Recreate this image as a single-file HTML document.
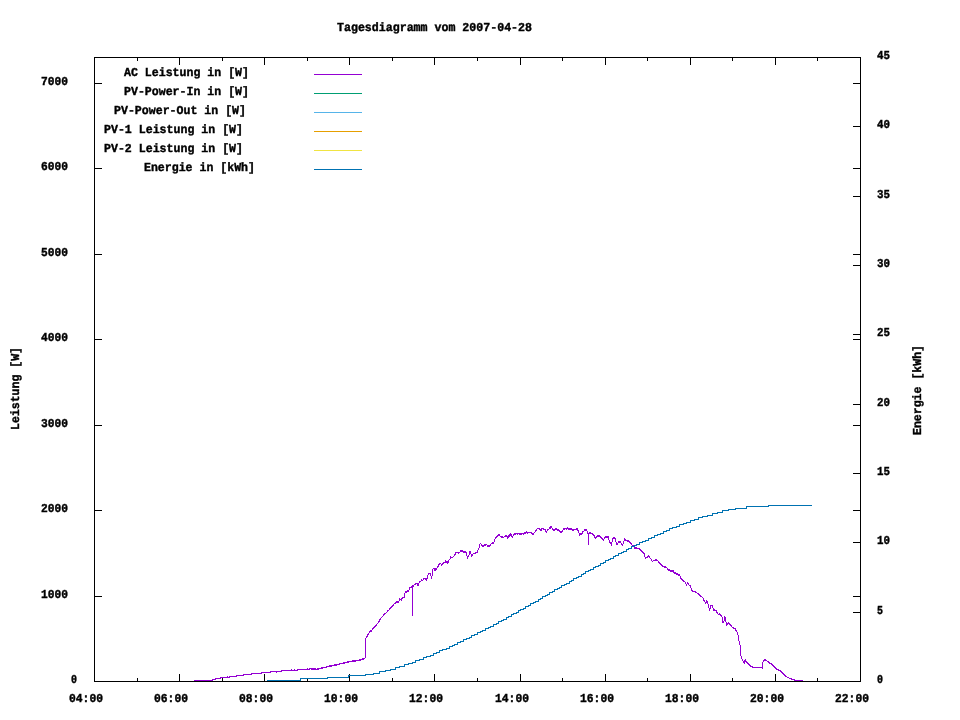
<!DOCTYPE html>
<html lang="de"><head><meta charset="utf-8"><title>Tagesdiagramm vom 2007-04-28</title>
<style>
html,body{margin:0;padding:0;background:#fff;}
body{width:960px;height:720px;overflow:hidden;font-family:"Liberation Mono",monospace;}
svg{display:block;will-change:transform;}
text{font-family:"Liberation Mono",monospace;font-weight:bold;font-size:12.15px;text-rendering:geometricPrecision;fill:#000;stroke:#000;stroke-width:0.4px;}
.ax{stroke:#000;stroke-width:1;fill:none;shape-rendering:crispEdges;}
.ln{stroke-width:1;fill:none;shape-rendering:crispEdges;}
</style></head><body>
<svg width="960" height="720" viewBox="0 0 960 720">
<rect x="0" y="0" width="960" height="720" fill="#ffffff"/>
<text x="337" y="31" textLength="195" lengthAdjust="spacingAndGlyphs">Tagesdiagramm vom 2007-04-28</text>
<path class="ax" d="M94.5 57.5H860.5V681.5H94.5ZM94.5 682v-8M94.5 57v8M137.5 682v-4M137.5 57v4M179.5 682v-8M179.5 57v8M222.5 682v-4M222.5 57v4M264.5 682v-8M264.5 57v8M307.5 682v-4M307.5 57v4M349.5 682v-8M349.5 57v8M392.5 682v-4M392.5 57v4M434.5 682v-8M434.5 57v8M477.5 682v-4M477.5 57v4M520.5 682v-8M520.5 57v8M562.5 682v-4M562.5 57v4M605.5 682v-8M605.5 57v8M647.5 682v-4M647.5 57v4M690.5 682v-8M690.5 57v8M732.5 682v-4M732.5 57v4M775.5 682v-8M775.5 57v8M817.5 682v-4M817.5 57v4M860.5 682v-8M860.5 57v8M94 681.5h8M861 681.5h-8M94 596.5h8M861 596.5h-8M94 510.5h8M861 510.5h-8M94 425.5h8M861 425.5h-8M94 339.5h8M861 339.5h-8M94 254.5h8M861 254.5h-8M94 168.5h8M861 168.5h-8M94 83.5h8M861 83.5h-8M861 681.5h-8M861 612.5h-8M861 542.5h-8M861 473.5h-8M861 404.5h-8M861 334.5h-8M861 265.5h-8M861 196.5h-8M861 126.5h-8M861 57.5h-8"/>
<text x="69" y="702" textLength="34" lengthAdjust="spacingAndGlyphs">04:00</text>
<text x="154" y="702" textLength="34" lengthAdjust="spacingAndGlyphs">06:00</text>
<text x="239" y="702" textLength="34" lengthAdjust="spacingAndGlyphs">08:00</text>
<text x="324" y="702" textLength="34" lengthAdjust="spacingAndGlyphs">10:00</text>
<text x="409" y="702" textLength="34" lengthAdjust="spacingAndGlyphs">12:00</text>
<text x="495" y="702" textLength="34" lengthAdjust="spacingAndGlyphs">14:00</text>
<text x="580" y="702" textLength="34" lengthAdjust="spacingAndGlyphs">16:00</text>
<text x="665" y="702" textLength="34" lengthAdjust="spacingAndGlyphs">18:00</text>
<text x="750" y="702" textLength="34" lengthAdjust="spacingAndGlyphs">20:00</text>
<text x="835" y="702" textLength="34" lengthAdjust="spacingAndGlyphs">22:00</text>
<text x="71" y="683" textLength="6" lengthAdjust="spacingAndGlyphs">0</text>
<text x="41" y="598" textLength="27" lengthAdjust="spacingAndGlyphs">1000</text>
<text x="41" y="512" textLength="27" lengthAdjust="spacingAndGlyphs">2000</text>
<text x="41" y="427" textLength="27" lengthAdjust="spacingAndGlyphs">3000</text>
<text x="41" y="341" textLength="27" lengthAdjust="spacingAndGlyphs">4000</text>
<text x="41" y="256" textLength="27" lengthAdjust="spacingAndGlyphs">5000</text>
<text x="41" y="170" textLength="27" lengthAdjust="spacingAndGlyphs">6000</text>
<text x="41" y="85" textLength="27" lengthAdjust="spacingAndGlyphs">7000</text>
<text x="877" y="683" textLength="6" lengthAdjust="spacingAndGlyphs">0</text>
<text x="877" y="614" textLength="6" lengthAdjust="spacingAndGlyphs">5</text>
<text x="877" y="544" textLength="13" lengthAdjust="spacingAndGlyphs">10</text>
<text x="877" y="475" textLength="13" lengthAdjust="spacingAndGlyphs">15</text>
<text x="877" y="406" textLength="13" lengthAdjust="spacingAndGlyphs">20</text>
<text x="877" y="336" textLength="13" lengthAdjust="spacingAndGlyphs">25</text>
<text x="877" y="267" textLength="13" lengthAdjust="spacingAndGlyphs">30</text>
<text x="877" y="198" textLength="13" lengthAdjust="spacingAndGlyphs">35</text>
<text x="877" y="128" textLength="13" lengthAdjust="spacingAndGlyphs">40</text>
<text x="877" y="59" textLength="13" lengthAdjust="spacingAndGlyphs">45</text>
<text transform="translate(19,430) rotate(-90)" textLength="83" lengthAdjust="spacingAndGlyphs">Leistung [W]</text>
<text transform="translate(921,435) rotate(-90)" textLength="90" lengthAdjust="spacingAndGlyphs">Energie [kWh]</text>
<text x="124" y="76" textLength="125" lengthAdjust="spacingAndGlyphs">AC Leistung in [W]</text>
<path class="ln" stroke="#9400d3" d="M314 74.5H362"/>
<text x="124" y="95" textLength="125" lengthAdjust="spacingAndGlyphs">PV-Power-In in [W]</text>
<path class="ln" stroke="#009e73" d="M314 93.5H362"/>
<text x="114" y="114" textLength="132" lengthAdjust="spacingAndGlyphs">PV-Power-Out in [W]</text>
<path class="ln" stroke="#56b4e9" d="M314 112.5H362"/>
<text x="104" y="133" textLength="139" lengthAdjust="spacingAndGlyphs">PV-1 Leistung in [W]</text>
<path class="ln" stroke="#e69f00" d="M314 131.5H362"/>
<text x="104" y="152" textLength="139" lengthAdjust="spacingAndGlyphs">PV-2 Leistung in [W]</text>
<path class="ln" stroke="#f0e442" d="M314 150.5H362"/>
<text x="144" y="171" textLength="111" lengthAdjust="spacingAndGlyphs">Energie in [kWh]</text>
<path class="ln" stroke="#0072b2" d="M314 169.5H362"/>
<path class="ln" stroke="#9400d3" d="M194.5 680v1M195.5 680v1M196.5 680v1M197.5 680v1M198.5 680v1M199.5 680v1M200.5 680v1M201.5 680v1M202.5 680v1M203.5 680v1M204.5 680v1M205.5 680v1M206.5 680v1M207.5 680v1M208.5 680v1M209.5 680v1M210.5 680v1M211.5 680v1M212.5 679v2M213.5 679v1M214.5 679v1M215.5 678v2M216.5 678v1M217.5 678v1M218.5 678v1M219.5 678v1M220.5 677v2M221.5 677v1M222.5 677v1M223.5 677v1M224.5 677v1M225.5 677v1M226.5 677v1M227.5 676v2M228.5 677v1M229.5 676v2M230.5 676v1M231.5 676v1M232.5 676v1M233.5 676v1M234.5 676v1M235.5 676v1M236.5 675v2M237.5 675v1M238.5 675v1M239.5 675v1M240.5 675v1M241.5 675v1M242.5 675v1M243.5 674v2M244.5 674v1M245.5 674v1M246.5 674v1M247.5 674v1M248.5 674v1M249.5 674v1M250.5 674v1M251.5 673v2M252.5 673v1M253.5 673v1M254.5 673v1M255.5 673v1M256.5 673v1M257.5 673v1M258.5 673v1M259.5 673v1M260.5 673v1M261.5 672v2M262.5 672v1M263.5 672v1M264.5 672v1M265.5 672v1M266.5 672v1M267.5 672v1M268.5 672v1M269.5 672v1M270.5 671v2M271.5 671v1M272.5 671v1M273.5 671v1M274.5 671v1M275.5 671v1M276.5 671v2M277.5 671v1M278.5 671v1M279.5 671v1M280.5 671v1M281.5 670v2M282.5 670v1M283.5 670v1M284.5 670v1M285.5 670v1M286.5 670v1M287.5 670v1M288.5 670v1M289.5 670v1M290.5 670v1M291.5 669v2M292.5 670v1M293.5 670v1M294.5 669v2M295.5 670v1M296.5 670v1M297.5 669v2M298.5 669v1M299.5 669v1M300.5 669v1M301.5 669v1M302.5 669v1M303.5 669v1M304.5 669v1M305.5 669v1M306.5 669v1M307.5 668v2M308.5 669v1M309.5 668v2M310.5 668v1M311.5 668v2M312.5 668v2M313.5 668v2M314.5 668v2M315.5 668v2M316.5 669v1M317.5 668v2M318.5 668v2M319.5 668v1M320.5 668v1M321.5 667v2M322.5 667v2M323.5 667v1M324.5 667v1M325.5 667v1M326.5 666v2M327.5 666v1M328.5 666v1M329.5 665v2M330.5 665v2M331.5 665v2M332.5 665v1M333.5 665v1M334.5 664v2M335.5 664v2M336.5 664v2M337.5 664v1M338.5 664v1M339.5 663v2M340.5 663v1M341.5 663v1M342.5 663v1M343.5 662v2M344.5 662v2M345.5 662v1M346.5 662v1M347.5 661v2M348.5 661v2M349.5 661v1M350.5 661v1M351.5 661v1M352.5 660v2M353.5 660v2M354.5 660v2M355.5 660v2M356.5 660v1M357.5 660v1M358.5 660v1M359.5 659v2M360.5 659v2M361.5 659v1M362.5 658v2M363.5 658v2M364.5 658v1M365.5 638v20M366.5 636v2M367.5 634v3M368.5 633v2M369.5 631v2M370.5 630v2M371.5 630v2M372.5 628v2M373.5 627v2M374.5 626v2M375.5 625v2M376.5 624v2M377.5 623v1M378.5 621v2M379.5 619v3M380.5 618v2M381.5 617v1M382.5 616v1M383.5 614v2M384.5 613v2M385.5 613v1M386.5 612v1M387.5 610v2M388.5 610v1M389.5 608v2M390.5 607v2M391.5 606v2M392.5 605v2M393.5 604v2M394.5 603v1M395.5 602v2M396.5 601v2M397.5 601v2M398.5 601v2M399.5 598v3M400.5 599v1M401.5 598v3M402.5 597v2M403.5 597v1M404.5 593v5M405.5 591v2M406.5 591v2M407.5 590v2M408.5 590v2M409.5 587v3M410.5 587v1M411.5 586v2M412.5 585v31M413.5 585v2M414.5 584v1M415.5 583v2M416.5 583v1M417.5 583v3M418.5 583v3M419.5 581v2M420.5 581v1M421.5 579v2M422.5 580v1M423.5 578v2M424.5 578v1M425.5 578v2M426.5 578v3M427.5 575v4M428.5 573v2M429.5 573v1M430.5 573v3M431.5 576v3M432.5 569v7M433.5 568v1M434.5 568v3M435.5 568v3M436.5 568v2M437.5 566v2M438.5 564v3M439.5 563v2M440.5 563v1M441.5 564v2M442.5 563v2M443.5 562v2M444.5 562v1M445.5 560v3M446.5 561v2M447.5 561v3M448.5 560v3M449.5 559v1M450.5 556v3M451.5 557v1M452.5 557v1M453.5 556v1M454.5 554v2M455.5 552v3M456.5 552v1M457.5 552v1M458.5 552v2M459.5 552v1M460.5 550v2M461.5 550v2M462.5 550v2M463.5 551v2M464.5 551v2M465.5 551v2M466.5 552v4M467.5 556v3M468.5 555v2M469.5 551v4M470.5 551v3M471.5 554v3M472.5 554v2M473.5 553v1M474.5 553v1M475.5 552v2M476.5 552v1M477.5 550v3M478.5 548v2M479.5 544v4M480.5 543v1M481.5 544v2M482.5 545v2M483.5 545v2M484.5 544v2M485.5 544v2M486.5 544v1M487.5 545v2M488.5 545v2M489.5 545v2M490.5 544v2M491.5 543v1M492.5 542v2M493.5 542v2M494.5 539v3M495.5 537v2M496.5 536v2M497.5 535v2M498.5 534v2M499.5 534v2M500.5 536v1M501.5 536v2M502.5 536v2M503.5 537v1M504.5 536v1M505.5 535v2M506.5 535v2M507.5 536v3M508.5 535v3M509.5 534v3M510.5 533v3M511.5 534v3M512.5 536v2M513.5 534v2M514.5 533v2M515.5 533v2M516.5 533v1M517.5 533v2M518.5 533v1M519.5 533v2M520.5 533v2M521.5 533v2M522.5 533v1M523.5 533v2M524.5 532v2M525.5 532v2M526.5 531v2M527.5 532v2M528.5 532v1M529.5 532v1M530.5 532v1M531.5 532v2M532.5 533v2M533.5 533v2M534.5 532v1M535.5 530v2M536.5 529v2M537.5 528v1M538.5 528v1M539.5 528v2M540.5 529v2M541.5 528v3M542.5 528v1M543.5 528v2M544.5 529v1M545.5 529v3M546.5 531v2M547.5 529v2M548.5 529v1M549.5 527v2M550.5 526v3M551.5 526v2M552.5 528v2M553.5 529v2M554.5 529v2M555.5 528v2M556.5 528v2M557.5 529v2M558.5 529v2M559.5 530v2M560.5 531v2M561.5 531v2M562.5 530v2M563.5 528v2M564.5 528v2M565.5 528v1M566.5 528v2M567.5 527v2M568.5 528v2M569.5 528v2M570.5 528v2M571.5 528v2M572.5 529v2M573.5 529v2M574.5 529v1M575.5 529v1M576.5 528v2M577.5 528v3M578.5 530v3M579.5 533v3M580.5 533v2M581.5 533v2M582.5 531v3M583.5 531v1M584.5 529v2M585.5 529v2M586.5 529v2M587.5 531v3M588.5 533v12M589.5 532v2M590.5 532v2M591.5 533v1M592.5 533v2M593.5 534v2M594.5 535v3M595.5 537v2M596.5 536v2M597.5 535v2M598.5 535v2M599.5 535v2M600.5 536v2M601.5 537v2M602.5 538v2M603.5 539v2M604.5 537v2M605.5 536v2M606.5 536v2M607.5 536v2M608.5 536v4M609.5 540v3M610.5 542v2M611.5 542v4M612.5 538v4M613.5 537v2M614.5 537v2M615.5 538v4M616.5 542v3M617.5 543v2M618.5 541v2M619.5 541v2M620.5 541v2M621.5 543v2M622.5 544v2M623.5 541v3M624.5 538v3M625.5 539v2M626.5 540v1M627.5 540v2M628.5 540v2M629.5 541v2M630.5 542v2M631.5 543v2M632.5 545v1M633.5 545v2M634.5 547v2M635.5 547v2M636.5 547v2M637.5 548v1M638.5 548v1M639.5 548v2M640.5 549v2M641.5 550v2M642.5 551v2M643.5 552v2M644.5 553v4M645.5 557v2M646.5 557v1M647.5 556v2M648.5 555v2M649.5 556v2M650.5 558v1M651.5 559v2M652.5 561v1M653.5 560v1M654.5 560v1M655.5 559v2M656.5 559v2M657.5 560v1M658.5 561v2M659.5 562v2M660.5 563v2M661.5 564v2M662.5 565v2M663.5 566v1M664.5 566v2M665.5 566v2M666.5 567v1M667.5 568v2M668.5 569v2M669.5 569v2M670.5 570v2M671.5 570v2M672.5 570v2M673.5 570v3M674.5 572v2M675.5 572v2M676.5 573v2M677.5 573v2M678.5 574v2M679.5 574v2M680.5 576v3M681.5 578v2M682.5 579v2M683.5 580v2M684.5 581v1M685.5 582v2M686.5 584v2M687.5 582v2M688.5 583v2M689.5 585v1M690.5 585v3M691.5 588v3M692.5 590v2M693.5 591v1M694.5 591v1M695.5 591v2M696.5 592v1M697.5 593v1M698.5 593v2M699.5 594v2M700.5 595v2M701.5 596v1M702.5 597v1M703.5 598v3M704.5 600v2M705.5 602v2M706.5 600v3M707.5 601v3M708.5 604v4M709.5 608v3M710.5 605v4M711.5 605v1M712.5 605v3M713.5 608v3M714.5 609v2M715.5 610v1M716.5 610v3M717.5 612v2M718.5 614v1M719.5 613v2M720.5 614v2M721.5 615v2M722.5 617v6M723.5 621v2M724.5 616v5M725.5 617v5M726.5 622v4M727.5 623v2M728.5 622v2M729.5 623v2M730.5 624v2M731.5 625v2M732.5 627v1M733.5 627v2M734.5 628v1M735.5 628v3M736.5 630v2M737.5 632v3M738.5 635v6M739.5 641v4M740.5 645v11M741.5 656v3M742.5 659v2M743.5 661v2M744.5 660v4M745.5 659v3M746.5 661v2M747.5 662v2M748.5 663v2M749.5 664v2M750.5 665v2M751.5 666v1M752.5 666v2M753.5 667v1M754.5 667v1M755.5 667v1M756.5 667v1M757.5 667v1M758.5 667v1M759.5 667v1M760.5 667v1M761.5 667v1M762.5 662v7M763.5 660v2M764.5 659v2M765.5 659v2M766.5 660v1M767.5 661v1M768.5 661v2M769.5 662v2M770.5 663v1M771.5 663v2M772.5 664v2M773.5 665v2M774.5 666v2M775.5 667v2M776.5 668v2M777.5 669v1M778.5 669v2M779.5 670v1M780.5 670v2M781.5 671v2M782.5 672v2M783.5 673v2M784.5 674v2M785.5 675v2M786.5 676v1M787.5 677v1M788.5 677v1M789.5 678v1M790.5 678v1M791.5 678v2M792.5 679v1M793.5 679v1M794.5 679v2M795.5 680v1M796.5 680v1M797.5 680v1M798.5 680v1M799.5 680v1M800.5 680v1M801.5 680v1M802.5 680v1"/>
<path class="ln" stroke="#0072b2" d="M266.7 680.5H300.2V678.5H327.7V677.5H348.3V675.5H365.4V674.5H373.2V673.5H379.6V671.5H385.2V670.5H390.3V669.5H395.1V667.5H399.7V666.5H404.1V664.5H408.2V663.5H412.1V662.5H415.8V660.5H419.5V659.5H423.1V657.5H426.7V656.5H430.1V655.5H433.5V653.5H436.7V652.5H439.8V650.5H442.9V649.5H446V648.5H449V646.5H452V645.5H454.8V644.5H457.7V642.5H460.5V641.5H463.3V639.5H466.1V638.5H469V637.5H471.8V635.5H474.7V634.5H477.5V632.5H480.2V631.5H482.8V630.5H485.5V628.5H488.2V627.5H490.9V626.5H493.5V624.5H496V623.5H498.5V621.5H501V620.5H503.5V619.5H506V617.5H508.6V616.5H511V614.5H513.5V613.5H516V612.5H518.4V610.5H520.9V609.5H523.4V608.5H525.8V606.5H528.2V605.5H530.7V603.5H533.1V602.5H535.6V601.5H538V599.5H540.3V598.5H542.7V596.5H545.1V595.5H547.5V594.5H549.9V592.5H552.3V591.5H554.6V589.5H557V588.5H559.4V587.5H561.9V585.5H564.2V584.5H566.6V583.5H569V581.5H571.4V580.5H573.8V578.5H576.1V577.5H578.5V576.5H581V574.5H583.4V573.5H585.8V571.5H588.2V570.5H590.7V569.5H593.1V567.5H595.6V566.5H598.2V565.5H600.7V563.5H603.2V562.5H605.7V560.5H608.2V559.5H610.8V558.5H613.4V556.5H615.9V555.5H618.6V553.5H621.2V552.5H623.8V551.5H626.4V549.5H628.9V548.5H631.6V546.5H634.2V545.5H636.9V544.5H639.7V542.5H642.4V541.5H645.3V540.5H648.2V538.5H651.1V537.5H654.1V535.5H657.1V534.5H660.1V533.5H663.2V531.5H666.4V530.5H669.6V528.5H672.9V527.5H676.2V526.5H679.6V524.5H683.1V523.5H686.8V522.5H690.5V520.5H694.5V519.5H698.6V517.5H702.9V516.5H707.4V515.5H712.2V513.5H717.3V512.5H722.7V510.5H728.8V509.5H735.3V508.5H746.7V506.5H768.4V505.5H811.6"/>
</svg>
</body></html>
